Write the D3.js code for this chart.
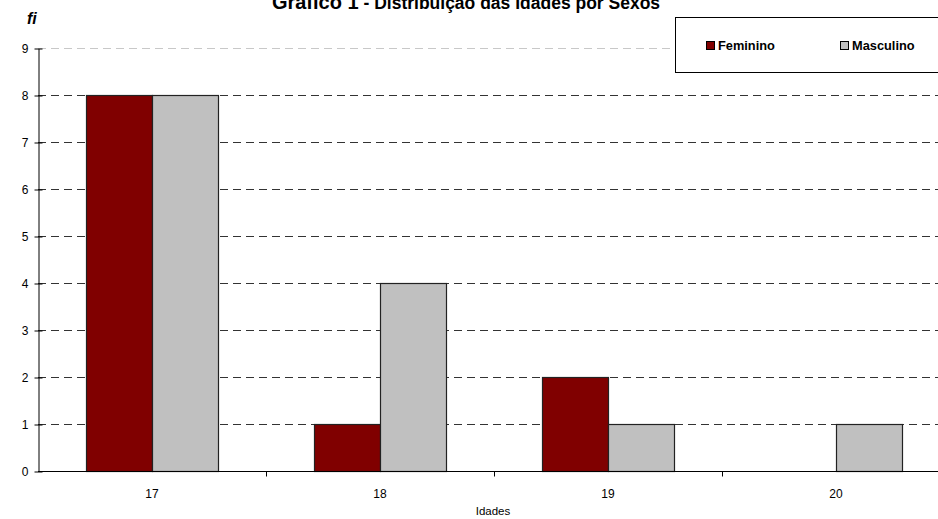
<!DOCTYPE html>
<html>
<head>
<meta charset="utf-8">
<script src="https://d3js.org/d3.v7.min.js"></script>
<style>
body { margin: 0; background: #fff; overflow: hidden; }
text { font-family: "Liberation Sans", Arial, sans-serif; }
</style>
</head>
<body>
<script>
var idades = ["17", "18", "19", "20"];
var feminino = [8, 1, 2, 0];
var masculino = [8, 4, 1, 1];
var series = ["Feminino", "Masculino"];
var cores = ["#800000", "#c0c0c0"];
var yTicks = [0, 1, 2, 3, 4, 5, 6, 7, 8, 9];

var W = 938, H = 519;
var pLeft = 38, pRight = 950, pTop = 48, pBottom = 471;

var svg = d3.select("body").append("svg")
  .attr("width", W).attr("height", H);

var x = d3.scaleBand().domain(idades).range([pLeft, pRight]).paddingInner(0).paddingOuter(0);
// bars 66px wide, 48px gap at each side of the group
var inner = d3.scaleBand().domain(series).range([0, x.bandwidth()]).paddingInner(0).paddingOuter(48 / 66);
var y = d3.scaleLinear().domain([0, 9]).range([pBottom, pTop]);

// gridlines
svg.append("g").selectAll("line")
  .data(yTicks.filter(function(d) { return d > 0; }))
  .enter().append("line")
  .attr("x1", pLeft).attr("x2", W)
  .attr("y1", function(d) { return y(d) + 0.5; })
  .attr("y2", function(d) { return y(d) + 0.5; })
  .attr("stroke", function(d) { return d == 9 ? "#c8c8c8" : "#333"; })
  .attr("stroke-dasharray", "8,5");

// bars
var dados = idades.map(function(k, i) { return { k: k, v: [feminino[i], masculino[i]] }; });
var grp = svg.append("g").selectAll("g")
  .data(dados).enter().append("g")
  .attr("transform", function(d) { return "translate(" + x(d.k) + ",0)"; });

grp.selectAll("rect")
  .data(function(d) { return d.v.map(function(v, j) { return { s: series[j], v: v, j: j }; }).filter(function(e) { return e.v > 0; }); })
  .enter().append("rect")
  .attr("x", function(d) { return inner(d.s) + 0.5; })
  .attr("y", function(d) { return y(d.v) + 0.5; })
  .attr("width", inner.bandwidth())
  .attr("height", function(d) { return y(0) - y(d.v); })
  .attr("fill", function(d) { return cores[d.j]; })
  .attr("stroke", "#222").attr("stroke-width", 1.2);

// y axis
var yAxis = svg.append("g")
  .attr("transform", "translate(" + (pLeft + 0.5) + ",0.5)")
  .call(d3.axisLeft(y).tickValues(yTicks).tickSize(4).tickSizeOuter(0).tickPadding(6));
yAxis.select(".domain").attr("stroke", "#000");
yAxis.selectAll(".tick line").attr("x2", 4).attr("x1", -4).attr("stroke", "#000");
yAxis.selectAll("text").attr("font-size", 12).attr("fill", "#000")
  .attr("font-family", "'Liberation Sans', Arial, sans-serif");

// x axis
var xAxis = svg.append("g")
  .attr("transform", "translate(0," + (pBottom + 0.5) + ")");
xAxis.append("line").attr("x1", pLeft).attr("x2", W).attr("stroke", "#000");
xAxis.selectAll(".sep")
  .data(idades.slice(1)).enter().append("line")
  .attr("x1", function(d) { return Math.round(x(d)) + 0.5; })
  .attr("x2", function(d) { return Math.round(x(d)) + 0.5; })
  .attr("y1", 0).attr("y2", 5).attr("stroke", "#000");
xAxis.selectAll("text")
  .data(idades).enter().append("text")
  .attr("x", function(d) { return x(d) + x.bandwidth() / 2; })
  .attr("y", 26)
  .attr("text-anchor", "middle")
  .attr("font-size", 12)
  .text(function(d) { return d; });

svg.append("text")
  .attr("x", 493).attr("y", 515)
  .attr("text-anchor", "middle").attr("font-size", 11.5)
  .text("Idades");

// y label
svg.append("text")
  .attr("x", 27).attr("y", 24)
  .attr("font-family", "'Liberation Serif', 'Times New Roman', serif")
  .attr("font-style", "italic").attr("font-weight", "bold").attr("font-size", 16)
  .text("fi");

// title (top is cut off in the original)
var t = svg.append("text")
  .attr("x", 466).attr("y", 9)
  .attr("text-anchor", "middle").attr("font-weight", "bold");
t.append("tspan").attr("font-size", 20).text("Gráfico 1");
t.append("tspan").attr("font-size", 17.5).text(" - Distribuição das Idades por Sexos");

// legend
var lg = svg.append("g");
lg.append("rect")
  .attr("x", 675.5).attr("y", 17.5).attr("width", 300).attr("height", 55)
  .attr("fill", "#fff").attr("stroke", "#000");
var lx = [706, 840];
series.forEach(function(s, i) {
  lg.append("rect")
    .attr("x", lx[i] + 0.5).attr("y", 41.5).attr("width", 8).attr("height", 8)
    .attr("fill", cores[i]).attr("stroke", "#000");
  lg.append("text")
    .attr("x", lx[i] + 12).attr("y", 50)
    .attr("font-size", 12.8).attr("font-weight", "bold")
    .text(s);
});
</script>
</body>
</html>
